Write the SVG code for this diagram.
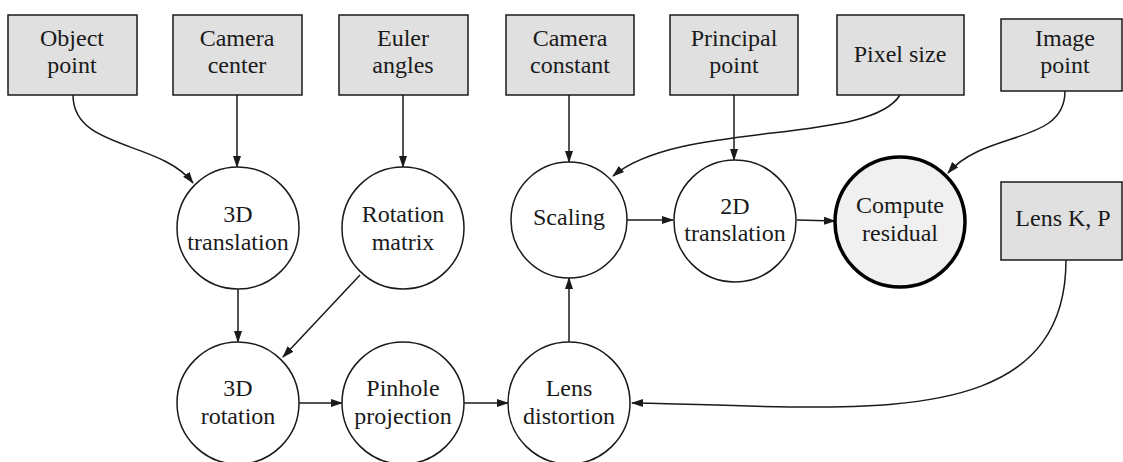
<svg xmlns="http://www.w3.org/2000/svg" width="1123" height="462" viewBox="0 0 1123 462">
<defs>
<style>
text{font-family:"Liberation Serif","Times New Roman",serif;font-size:24px;fill:#1a1a1a;text-anchor:middle}
.box{fill:#e0e0e0;stroke:#1a1a1a;stroke-width:1.5}
.op{fill:#fff;stroke:#1a1a1a;stroke-width:1.5}
.res{fill:#f0f0f0;stroke:#000;stroke-width:3.5}
.c{fill:none;stroke:#1a1a1a;stroke-width:1.5;marker-end:url(#ah)}
</style>
<marker id="ah" markerUnits="userSpaceOnUse" markerWidth="12" markerHeight="9" refX="11" refY="4" orient="auto" viewBox="0 0 12 8">
<path d="M0,0 L12,4 L0,8 z" fill="#1a1a1a"/>
</marker>
</defs>
<g id="connectors">
<path class="c" d="M73,95 C73,150 160,140 193,183"/>
<path class="c" d="M237,95 L237,167"/>
<path class="c" d="M403,95 L403,167"/>
<path class="c" d="M569,95 L569,162"/>
<path class="c" d="M734,95 L734,160"/>
<path class="c" d="M900,95 C870,145 680,120 613,176"/>
<path class="c" d="M1065,91 C1065,145 985,130 948,173"/>
<path class="c" d="M238,289 L238,342"/>
<path class="c" d="M360,275 L283,357"/>
<path class="c" d="M299,403 L342,403"/>
<path class="c" d="M464,403 L508,403"/>
<path class="c" d="M569,342 L569,278"/>
<path class="c" d="M627,220 L673,220"/>
<path class="c" d="M797,220 L835,221"/>
<path class="c" d="M1066,260 C1066,400 930,408 790,407 C720,406 670,403 632,403"/>
</g>
<g id="object_point"><rect class="box" x="8" y="15" width="129" height="80"/><text x="72" y="46">Object</text><text x="72" y="73">point</text></g>
<g id="camera_center"><rect class="box" x="173" y="15" width="129" height="80"/><text x="237" y="46">Camera</text><text x="237" y="73">center</text></g>
<g id="euler_angles"><rect class="box" x="339" y="15" width="129" height="80"/><text x="403" y="46">Euler</text><text x="403" y="73">angles</text></g>
<g id="camera_constant"><rect class="box" x="506" y="15" width="128" height="80"/><text x="570" y="46">Camera</text><text x="570" y="73">constant</text></g>
<g id="principal_point"><rect class="box" x="670" y="15" width="128" height="80"/><text x="734" y="46">Principal</text><text x="734" y="73">point</text></g>
<g id="pixel_size"><rect class="box" x="837" y="15" width="127" height="80"/><text x="900" y="62">Pixel size</text></g>
<g id="image_point"><rect class="box" x="1001" y="19" width="121" height="72"/><text x="1065" y="46">Image</text><text x="1065" y="73">point</text></g>
<g id="lens_kp"><rect class="box" x="1001" y="182" width="121" height="78"/><text x="1063" y="226">Lens K, P</text></g>
<g id="translation3d"><circle class="op" cx="238" cy="228" r="61"/><text x="238" y="222">3D</text><text x="238" y="250">translation</text></g>
<g id="rotation_matrix"><circle class="op" cx="403" cy="228" r="61"/><text x="403" y="222">Rotation</text><text x="403" y="250">matrix</text></g>
<g id="scaling"><circle class="op" cx="569" cy="220" r="58"/><text x="569" y="225">Scaling</text></g>
<g id="translation2d"><circle class="op" cx="735" cy="221" r="61"/><text x="735" y="214">2D</text><text x="735" y="241">translation</text></g>
<g id="compute_residual"><circle class="res" cx="900" cy="222" r="65"/><text x="900" y="213">Compute</text><text x="900" y="241">residual</text></g>
<g id="rotation3d"><circle class="op" cx="238" cy="403" r="61"/><text x="238" y="396">3D</text><text x="238" y="424">rotation</text></g>
<g id="pinhole"><circle class="op" cx="403" cy="403" r="61"/><text x="403" y="396">Pinhole</text><text x="403" y="424">projection</text></g>
<g id="lens_distortion"><circle class="op" cx="569" cy="403" r="61"/><text x="569" y="396">Lens</text><text x="569" y="424">distortion</text></g>
</svg>
